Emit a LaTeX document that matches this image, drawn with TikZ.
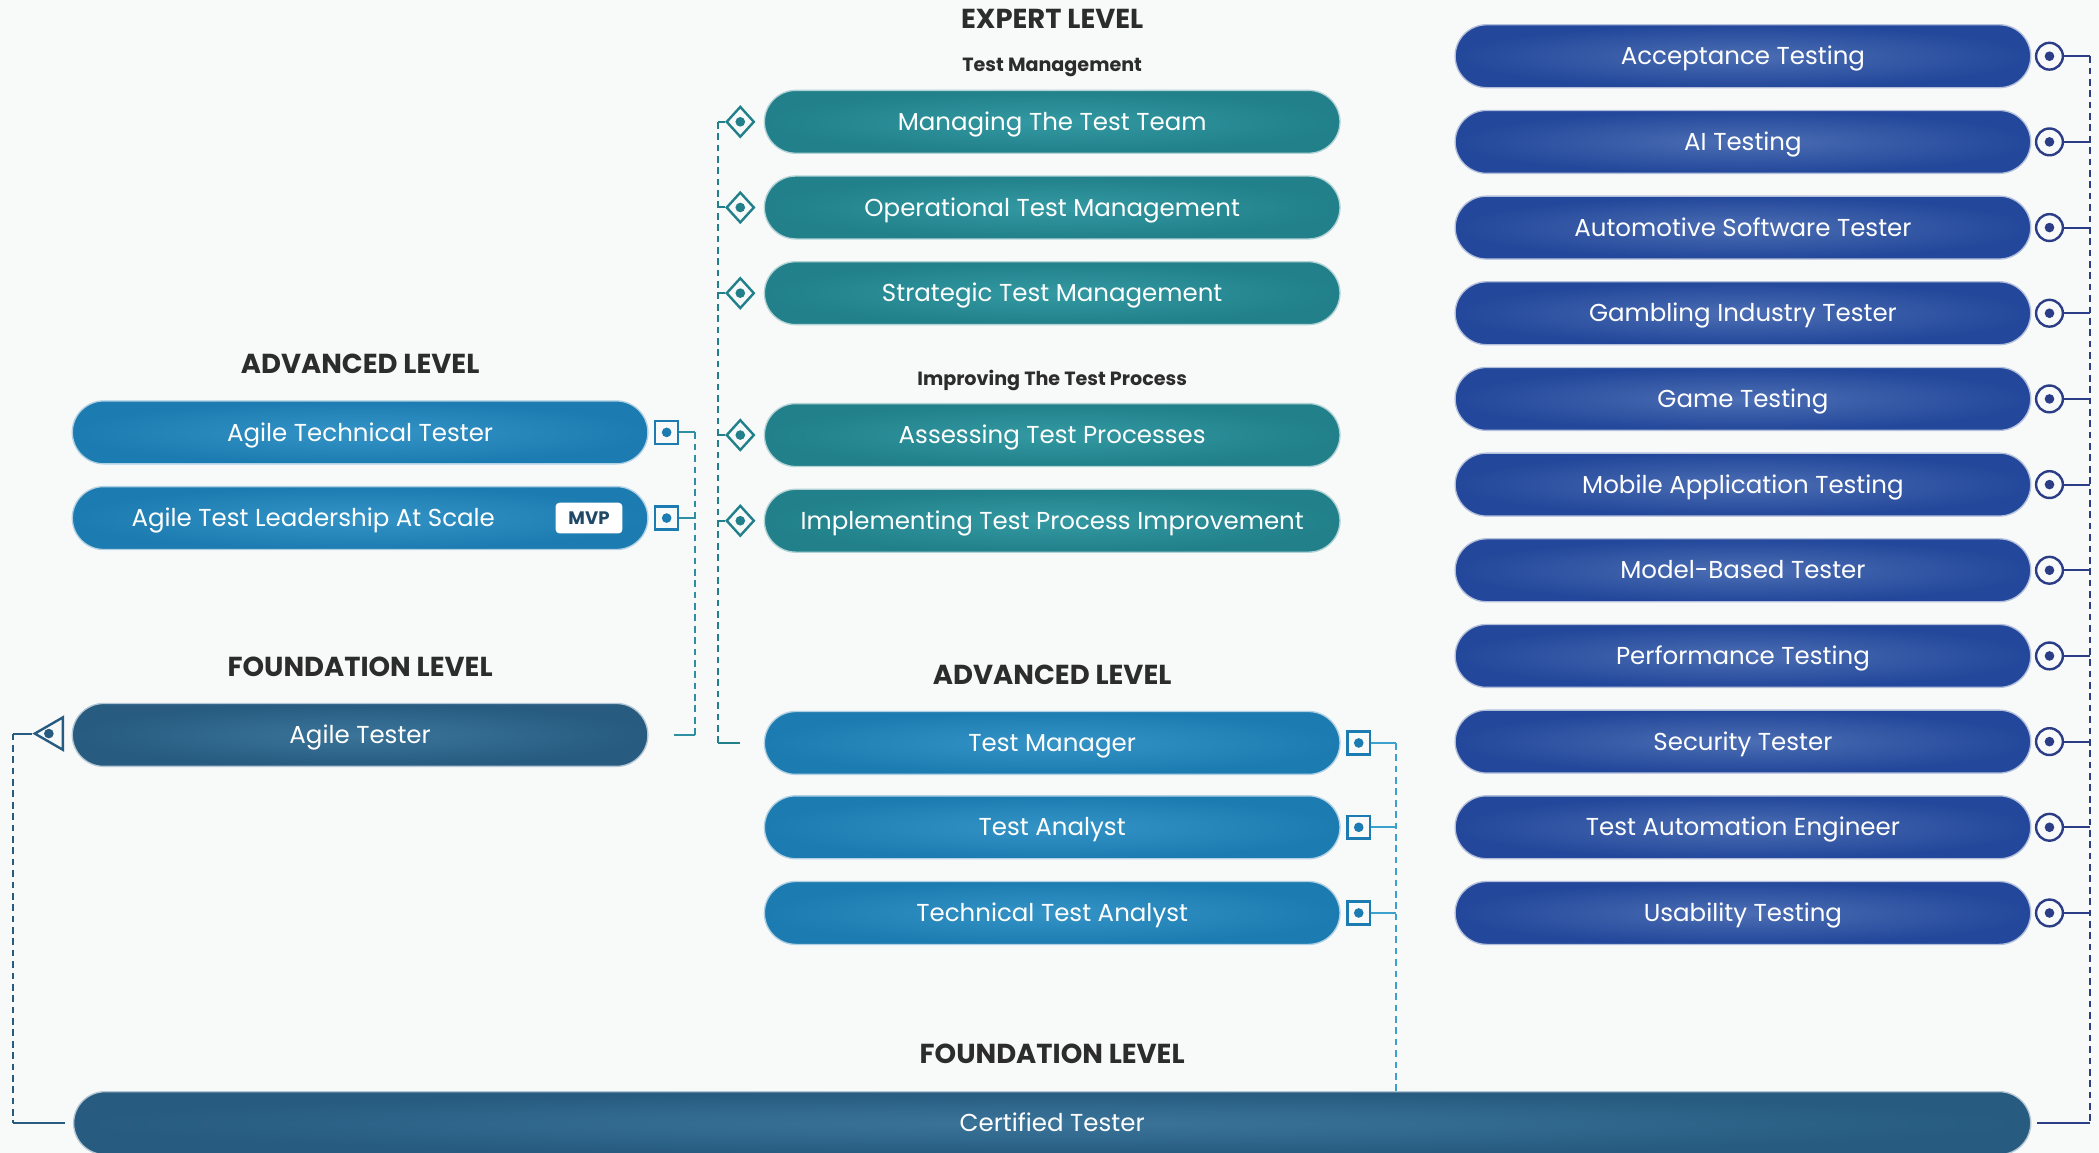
\documentclass[tikz,border=0pt]{standalone}
\usepackage{fontspec}
\setmainfont{Poppins}
\usetikzlibrary{positioning,shapes.misc,shapes.geometric}

\definecolor{bgcol}{HTML}{F8F9F9}
\definecolor{headcol}{HTML}{2C2C2C}
\definecolor{expcol}{HTML}{21808A}
\definecolor{explight}{HTML}{3399A2}
\definecolor{advcol}{HTML}{1C7BB0}
\definecolor{advlight}{HTML}{3494C6}
\definecolor{fndcol}{HTML}{275B80}
\definecolor{fndlight}{HTML}{3B7499}
\definecolor{spccol}{HTML}{23479A}
\definecolor{spclight}{HTML}{4C6EB4}
\definecolor{navycol}{HTML}{2A3D86}
\definecolor{cyancol}{HTML}{3AA2CC}
\definecolor{tealcol}{HTML}{2E8EA4}

\begin{document}
\begin{tikzpicture}[x=1pt,y=-1pt,
    pill/.style={rounded rectangle,minimum width=430pt,minimum height=47pt,inner sep=0pt,
      text height=1.3em,text depth=0pt,text=white,font=\fontsize{18.3}{22}\selectfont,line width=1pt},
    expert/.style={pill,inner color=explight,outer color=expcol,draw=expcol!35!white},
    adv/.style={pill,inner color=advlight,outer color=advcol,draw=advcol!35!white},
    fnd/.style={pill,inner color=fndlight,outer color=fndcol,draw=fndcol!35!white},
    spec/.style={pill,inner color=spclight,outer color=spccol,draw=spccol!35!white},
    head/.style={font=\bfseries\fontsize{20.5}{24}\selectfont,text=headcol},
    subhead/.style={font=\bfseries\fontsize{14.3}{17}\selectfont,text=headcol},
    dot/.style={path picture={\fill[#1] (path picture bounding box.center) circle (3.6pt);}},
    sqicon/.style={rectangle,draw=#1,line width=1.8pt,minimum size=17pt,inner sep=0pt,fill=bgcol,dot=#1},
    dmicon/.style={diamond,draw=expcol,line width=1.8pt,minimum width=21pt,minimum height=23pt,
      inner sep=0pt,fill=bgcol,dot=expcol},
    ccicon/.style={circle,draw=navycol,line width=1.8pt,minimum size=20pt,inner sep=0pt,fill=bgcol,dot=navycol},
    tricon/.style={regular polygon,regular polygon sides=3,shape border rotate=90,draw=fndcol,
      line width=1.8pt,minimum size=28pt,inner sep=0pt,fill=bgcol,dot=fndcol},
    mvp/.style={fill=white,rounded corners=3pt,minimum width=50pt,minimum height=23pt,inner sep=0pt,
      text=fndcol!80!black,font=\bfseries\fontsize{13.5}{15}\selectfont},
    link/.style={line width=1.5pt},
    bus/.style={link,dash pattern=on 5pt off 3.5pt}]

  \fill[bgcol] (0,0) rectangle (1568,861);
  \useasboundingbox (0,0) rectangle (1568,861);

  \node[head] (advL) at (269,272) {ADVANCED LEVEL};
  \node[head] (fndL) at (269,498) {FOUNDATION LEVEL};
  \node[head] (expM) at (786,14) {EXPERT LEVEL};
  \node[subhead] (tmM) at (786,50) {Test Management};
  \node[subhead] (itpM) at (786,284) {Improving The Test Process};
  \node[head] (advM) at (786,504) {ADVANCED LEVEL};
  \node[head] (fndM) at (786,787) {FOUNDATION LEVEL};

  \node[adv] (aTech) at (269,323) {Agile Technical Tester};
  \node[adv] (aLead) at (269,387) {Agile Test Leadership At Scale\hspace*{70pt}};
  \node[mvp] (mvp) at (440,387) {MVP};
  \node[fnd] (aTest) at (269,549) {Agile Tester};
  \node[fnd,minimum width=1462pt] (ct) at (786,839) {Certified Tester};

  \foreach \y/\t [count=\i] in {91/Managing The Test Team,155/Operational Test Management,
      219/Strategic Test Management,325/Assessing Test Processes,389/Implementing Test Process Improvement}
    \node[expert] (ex\i) at (786,\y) {\t};
  \foreach \y/\t [count=\i] in {555/Test Manager,618/Test Analyst,682/Technical Test Analyst}
    \node[adv] (ad\i) at (786,\y) {\t};
  \foreach \t [count=\i from 0] in {Acceptance Testing,AI Testing,Automotive Software Tester,
      Gambling Industry Tester,Game Testing,Mobile Application Testing,Model-Based Tester,
      Performance Testing,Security Tester,Test Automation Engineer,Usability Testing}
    \node[spec] (sp\i) at (1302,{42+64*\i}) {\t};

  % agile branch
  \coordinate (lbus) at (519,323);
  \node[sqicon=advcol] (lsq1) at (498,323) {};
  \node[sqicon=advcol] (lsq2) at (498,387) {};
  \foreach \i in {1,2}
    \draw[link,tealcol] (lsq\i.east) -- (lsq\i.east -| lbus);
  \draw[bus,tealcol] (lbus) -- (lbus |- aTest.east);
  \draw[link,tealcol] (lbus |- aTest.east) -- ([xshift=19pt]aTest.east);

  % expert branch
  \coordinate (ebus) at (536,91);
  \foreach \i in {1,...,5} {
    \node[dmicon] (dm\i) at (553,0 |- ex\i) {};
    \draw[link,expcol] (dm\i.west) -- (dm\i.west -| ebus);
  }
  \draw[bus,expcol] (ebus) -- (ebus |- ad1.west);
  \draw[link,expcol] (ebus |- ad1.west) -- ([xshift=-18pt]ad1.west);

  % advanced branch
  \coordinate (mbus) at (1043,555);
  \foreach \i in {1,2,3} {
    \node[sqicon=advcol] (msq\i) at (1015,0 |- ad\i) {};
    \draw[link,cyancol] (msq\i.east) -- (msq\i.east -| mbus);
  }
  \draw[bus,cyancol] (mbus) -- (mbus |- ct.north);

  % specialist branch
  \coordinate (rbus) at (1561,42);
  \foreach \i in {0,...,10} {
    \node[ccicon] (ci\i) at (1531,0 |- sp\i) {};
    \draw[link,navycol] (ci\i.east) -- (ci\i.east -| rbus);
  }
  \draw[bus,navycol] (rbus) -- (rbus |- ct.east);
  \draw[link,navycol] (rbus |- ct.east) -- ([xshift=4pt]ct.east);

  % foundation branch
  \node[tricon] (tri) at (40,548) {};
  \coordinate (fbus) at (10,548);
  \draw[link,fndcol] (tri.corner 1) -- (fbus);
  \draw[bus,fndcol] (fbus) -- (fbus |- ct.west);
  \draw[link,fndcol] (fbus |- ct.west) -- ([xshift=-6pt]ct.west);
\end{tikzpicture}
\end{document}
